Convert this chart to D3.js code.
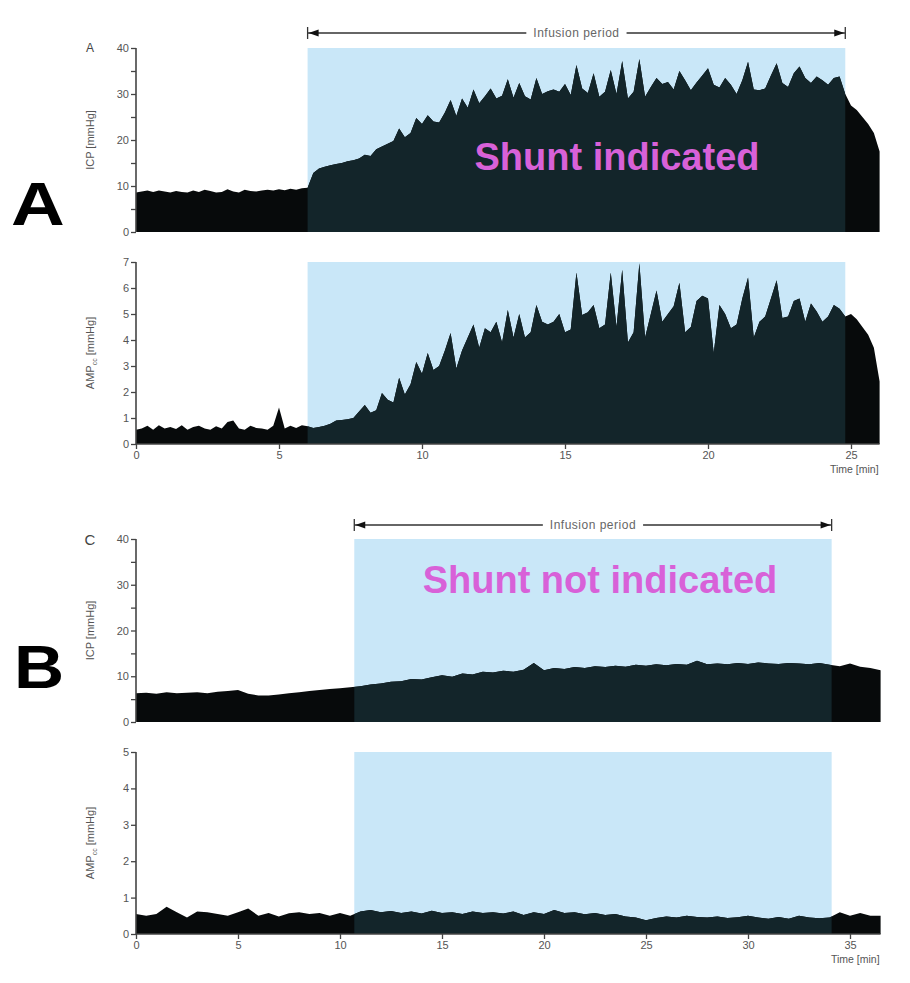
<!DOCTYPE html>
<html>
<head>
<meta charset="utf-8">
<script src="https://cdn.jsdelivr.net/npm/d3@7"></script>
<style>
  html, body { margin: 0; padding: 0; background: #fff; }
  svg { display: block; }
</style>
</head>
<body>
<svg id="chart" width="910" height="983"></svg>
<script>
// ---------------- DATA ----------------
// Panel A (shunt indicated), sampled every 0.2 min from 0 to 26 min
const stepA = 0.2;
const icpA = [
  8.6,8.8,9.0,8.7,9.0,8.8,8.6,8.9,8.7,8.6,
  9.0,8.7,9.2,8.9,8.6,8.7,9.3,8.8,8.6,9.2,
  8.9,8.8,9.0,9.2,9.0,9.3,9.1,9.4,9.2,9.5,
  9.6,12.8,13.8,14.2,14.5,14.8,15.0,15.4,15.6,16.0,
  16.8,16.5,18.0,18.6,19.2,19.8,22.5,20.6,21.5,24.8,
  23.5,25.4,24.0,23.8,26.0,28.7,25.2,29.0,27.0,31.0,
  28.0,29.5,31.2,29.0,29.6,33.2,29.2,32.4,29.5,28.8,
  33.5,30.0,30.6,31.0,30.5,32.2,29.8,36.3,31.2,30.2,
  34.5,29.4,30.5,35.2,30.0,37.2,29.0,30.5,37.6,29.4,
  31.5,33.5,32.2,32.6,31.0,35.0,33.0,30.8,32.5,34.0,
  35.6,32.0,31.4,33.5,32.0,30.0,33.0,37.0,31.0,30.8,
  31.2,34.0,36.7,32.4,31.5,34.5,36.0,33.5,32.4,33.8,
  33.0,32.0,33.5,33.8,30.0,27.5,26.5,25.0,23.5,21.5,
  17.5
];
const ampA = [
  0.55,0.6,0.7,0.55,0.72,0.6,0.65,0.58,0.72,0.55,
  0.65,0.7,0.6,0.55,0.68,0.6,0.85,0.9,0.6,0.55,
  0.7,0.62,0.6,0.55,0.7,1.4,0.6,0.7,0.62,0.72,
  0.68,0.62,0.65,0.7,0.78,0.9,0.92,0.95,1.0,1.25,
  1.5,1.2,1.3,1.96,1.7,1.6,2.55,1.9,2.3,3.15,
  2.7,3.5,2.85,3.0,3.6,4.27,2.9,3.6,4.1,4.6,
  3.7,4.45,4.3,4.7,3.9,5.15,4.1,5.0,4.1,4.3,
  5.35,4.7,4.6,4.7,5.0,4.3,4.4,6.6,4.96,5.07,
  5.35,4.45,4.6,6.6,4.5,6.7,3.9,4.3,6.95,4.1,
  5.0,5.9,4.7,5.0,5.3,6.2,4.3,4.5,5.5,5.7,
  5.6,3.5,5.35,5.0,4.45,4.6,5.6,6.4,4.1,4.7,
  4.9,5.6,6.3,4.85,4.9,5.5,5.6,4.7,5.4,5.1,
  4.7,4.9,5.35,5.2,4.9,5.0,4.8,4.5,4.2,3.7,
  2.4
];
const infusionA = [6.0, 24.8];
const timeMaxA = 26.0;

// Panel B/C (shunt not indicated), sampled every 0.5 min from 0 to 36.5 min
const stepC = 0.5;
const icpC = [
  6.3,6.4,6.2,6.5,6.3,6.4,6.5,6.3,6.6,6.8,
  7.0,6.2,5.8,5.8,6.0,6.3,6.5,6.8,7.0,7.2,
  7.4,7.6,7.8,8.2,8.4,8.8,8.9,9.4,9.3,9.8,
  10.2,9.9,10.6,10.4,11.0,10.8,11.2,11.0,11.4,12.9,
  11.3,11.8,11.6,12.0,11.8,12.2,12.0,12.3,12.1,12.5,
  12.3,12.6,12.4,12.7,12.5,13.4,12.6,12.8,12.6,12.9,
  12.7,13.0,12.8,12.7,12.9,12.8,12.6,12.9,12.5,12.2,
  12.8,12.1,11.8,11.3
];
const ampC = [
  0.55,0.5,0.55,0.75,0.6,0.45,0.62,0.6,0.55,0.5,
  0.6,0.7,0.5,0.58,0.48,0.57,0.6,0.55,0.58,0.5,
  0.58,0.5,0.62,0.66,0.6,0.63,0.58,0.62,0.56,0.64,
  0.58,0.6,0.55,0.62,0.58,0.6,0.56,0.62,0.52,0.6,
  0.55,0.66,0.58,0.6,0.54,0.58,0.52,0.55,0.48,0.45,
  0.38,0.44,0.48,0.45,0.5,0.47,0.45,0.48,0.44,0.46,
  0.5,0.45,0.42,0.47,0.42,0.5,0.45,0.43,0.45,0.6,
  0.5,0.58,0.5,0.5
];
const infusionC = [10.7, 34.1];
const timeMaxC = 36.5;

// Tick labels
const xTicksA = [0, 5, 10, 15, 20, 25];
const xTicksC = [0, 5, 10, 15, 20, 25, 30, 35];
const icpTicks = [0, 10, 20, 30, 40];
const icpMinorTicks = [5, 15, 25, 35];
const ampTicksA = [0, 1, 2, 3, 4, 5, 6, 7];
const ampTicksC = [0, 1, 2, 3, 4, 5];

// ---------------- DRAWING ----------------
const svg = d3.select("#chart");
const FONT = "'Liberation Sans', Arial, sans-serif";
const BLUE = "#c9e7f8";
const FILL_OUT = "#070a0b";
const FILL_IN = "#13252a";
const AXIS = "#444";
const TICKTXT = "#555";
const MAGENTA = "#d861d8";
const defs = svg.append("defs");
let clipId = 0;

function toPoints(values, step) {
  return values.map((v, i) => ({ t: i * step, v }));
}

function drawPanel(opts) {
  const { x, y, data, infusion, yTicks, yMinor, yTitle, sub, showX, xTicks } = opts;
  const g = svg.append("g");
  const [y0, y1] = y.range();
  g.append("rect")
    .attr("x", x(infusion[0])).attr("y", y1)
    .attr("width", x(infusion[1]) - x(infusion[0]))
    .attr("height", y0 - y1)
    .attr("fill", BLUE);

  const area = d3.area().x(d => x(d.t)).y0(y(0)).y1(d => y(d.v)).curve(d3.curveLinear);
  g.append("path").datum(data).attr("d", area).attr("fill", FILL_OUT);

  const id = "clip" + (clipId++);
  defs.append("clipPath").attr("id", id).append("rect")
    .attr("x", x(infusion[0])).attr("y", y1 - 5)
    .attr("width", x(infusion[1]) - x(infusion[0]))
    .attr("height", y0 - y1 + 10);
  g.append("path").datum(data).attr("d", area).attr("fill", FILL_IN)
    .attr("clip-path", `url(#${id})`);

  const ax = x(0);
  const yAxis = d3.axisLeft(y).tickValues(yTicks).tickSize(5).tickPadding(2).tickFormat(d3.format("d"));
  const ya = g.append("g").attr("transform", `translate(${ax},0)`).call(yAxis);
  ya.select(".domain").attr("stroke", AXIS).attr("stroke-width", 1.6).attr("d", `M0,${y1}V${y0}`);
  ya.selectAll(".tick line").attr("stroke", AXIS).attr("stroke-width", 1.3);
  ya.selectAll(".tick text").attr("fill", TICKTXT).attr("font-family", FONT).attr("font-size", 11);
  if (yMinor) {
    const ym = d3.axisLeft(y).tickValues(yMinor).tickSize(5).tickFormat("");
    const yma = g.append("g").attr("transform", `translate(${ax},0)`).call(ym);
    yma.select(".domain").remove();
    yma.selectAll(".tick line").attr("stroke", AXIS).attr("stroke-width", 1.3);
  }
  const tt = g.append("text")
    .attr("transform", `translate(${ax - 42},${(y0 + y1) / 2}) rotate(-90)`)
    .attr("text-anchor", "middle")
    .attr("font-family", FONT).attr("font-size", 11).attr("fill", TICKTXT);
  tt.append("tspan").text(yTitle);
  if (sub) {
    tt.append("tspan").attr("font-size", 7).attr("dy", 3).text(sub);
    tt.append("tspan").attr("dy", -3).text(" [mmHg]");
  } else {
    tt.append("tspan").text(" [mmHg]");
  }

  if (showX) {
    const xAxis = d3.axisBottom(x).tickValues(xTicks).tickSize(5).tickPadding(2).tickFormat(d3.format("d"));
    const xa = g.append("g").attr("transform", `translate(0,${y0})`).call(xAxis);
    xa.select(".domain").attr("stroke", AXIS).attr("stroke-width", 1.6)
      .attr("d", `M${x.range()[0]},0H${x.range()[1]}`);
    xa.selectAll(".tick line").attr("stroke", AXIS).attr("stroke-width", 1.3);
    xa.selectAll(".tick text").attr("fill", TICKTXT).attr("font-family", FONT).attr("font-size", 11);
    g.append("text")
      .attr("x", x.range()[1] - 1).attr("y", y0 + 29)
      .attr("text-anchor", "end")
      .attr("font-family", FONT).attr("font-size", 10.5).attr("fill", TICKTXT)
      .text("Time [min]");
  }
  return g;
}

function drawInfusionArrow(x, yPos, infusion) {
  const g = svg.append("g");
  const xa = x(infusion[0]), xb = x(infusion[1]);
  g.append("line").attr("x1", xa).attr("x2", xb).attr("y1", yPos).attr("y2", yPos)
    .attr("stroke", "#333").attr("stroke-width", 1.3);
  [xa, xb].forEach(xx => {
    g.append("line").attr("x1", xx).attr("x2", xx).attr("y1", yPos - 6).attr("y2", yPos + 6)
      .attr("stroke", "#333").attr("stroke-width", 1.3);
  });
  g.append("path").attr("d", `M${xa + 1},${yPos}L${xa + 11},${yPos - 3.5}L${xa + 11},${yPos + 3.5}Z`).attr("fill", "#111");
  g.append("path").attr("d", `M${xb - 1},${yPos}L${xb - 11},${yPos - 3.5}L${xb - 11},${yPos + 3.5}Z`).attr("fill", "#111");
  const cx = (xa + xb) / 2;
  const txt = g.append("text").attr("x", cx).attr("y", yPos + 4)
    .attr("text-anchor", "middle").attr("font-family", FONT)
    .attr("font-size", 12).attr("letter-spacing", 0.5).attr("fill", "#666").text("Infusion period");
  const bb = txt.node().getBBox();
  g.insert("rect", "text").attr("x", bb.x - 7).attr("y", bb.y).attr("width", bb.width + 14)
    .attr("height", bb.height).attr("fill", "#fff");
}

const xA = d3.scaleLinear().domain([0, timeMaxA]).range([136, 136 + timeMaxA * 28.6]);
const xC = d3.scaleLinear().domain([0, timeMaxC]).range([136, 136 + timeMaxC * 20.4]);
const yIcpA = d3.scaleLinear().domain([0, 40]).range([232, 48]);
const yAmpA = d3.scaleLinear().domain([0, 7]).range([444, 262]);
const yIcpC = d3.scaleLinear().domain([0, 40]).range([722, 539]);
const yAmpC = d3.scaleLinear().domain([0, 5]).range([934, 752]);

drawPanel({ x: xA, y: yIcpA, data: toPoints(icpA, stepA), infusion: infusionA,
  yTicks: icpTicks, yMinor: icpMinorTicks, yTitle: "ICP", showX: false });
drawPanel({ x: xA, y: yAmpA, data: toPoints(ampA, stepA), infusion: infusionA,
  yTicks: ampTicksA, yTitle: "AMP", sub: "cc", showX: true, xTicks: xTicksA });
drawPanel({ x: xC, y: yIcpC, data: toPoints(icpC, stepC), infusion: infusionC,
  yTicks: icpTicks, yMinor: icpMinorTicks, yTitle: "ICP", showX: false });
drawPanel({ x: xC, y: yAmpC, data: toPoints(ampC, stepC), infusion: infusionC,
  yTicks: ampTicksC, yTitle: "AMP", sub: "cc", showX: true, xTicks: xTicksC });

drawInfusionArrow(xA, 33, infusionA);
drawInfusionArrow(xC, 525, infusionC);

svg.append("text").attr("x", 90).attr("y", 52).attr("text-anchor", "middle")
  .attr("font-family", FONT).attr("font-size", 12).attr("fill", "#444").text("A");
svg.append("text").attr("x", 90).attr("y", 545).attr("text-anchor", "middle")
  .attr("font-family", FONT).attr("font-size", 15).attr("fill", "#444").text("C");

svg.append("text").attr("transform", "translate(11,225) scale(1.2,1)")
  .attr("font-family", FONT).attr("font-weight", "bold").attr("font-size", 62).attr("fill", "#000").text("A");
svg.append("text").attr("transform", "translate(14,688) scale(1.12,1)")
  .attr("font-family", FONT).attr("font-weight", "bold").attr("font-size", 62).attr("fill", "#000").text("B");

svg.append("text").attr("x", 617).attr("y", 170).attr("text-anchor", "middle")
  .attr("font-family", FONT).attr("font-weight", "bold").attr("font-size", 38).attr("fill", MAGENTA)
  .text("Shunt indicated");
svg.append("text").attr("x", 600).attr("y", 593).attr("text-anchor", "middle")
  .attr("font-family", FONT).attr("font-weight", "bold").attr("font-size", 38).attr("fill", MAGENTA)
  .text("Shunt not indicated");
</script>
</body>
</html>
